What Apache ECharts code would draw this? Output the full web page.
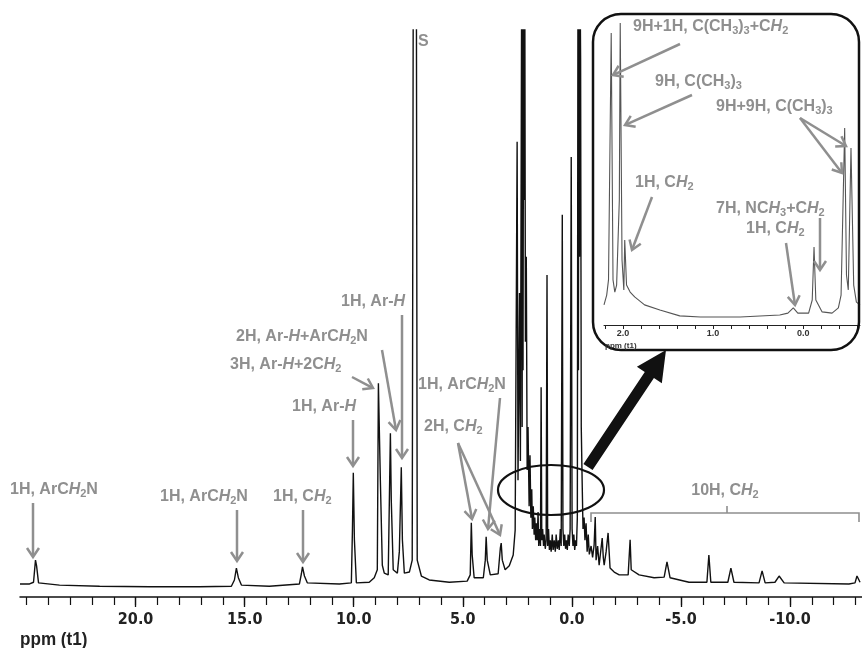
<!DOCTYPE html>
<html><head><meta charset="utf-8">
<script src="https://cdn.jsdelivr.net/npm/echarts@6/dist/echarts.min.js"></script>
<style>html,body{margin:0;padding:0;background:#fff}#c{width:862px;height:648px}</style>
</head><body><div id="c"></div>
<script>
// ---------- DATA ----------
const mainPpm = [25.3,24.86,24.68,24.59,24.54,24.45,23.49,21.65,19.36,17.07,15.61,15.47,15.38,15.29,15.15,13.87,12.49,12.40,12.35,12.26,12.13,10.66,10.11,10.06,10.02,9.97,9.88,9.29,9.06,8.92,8.87,8.78,8.69,8.60,8.42,8.32,8.28,8.19,8.00,7.91,7.82,7.77,7.68,7.45,7.32,7.27,7.13,7.09,6.90,6.54,5.62,4.80,4.66,4.61,4.57,4.48,4.06,3.97,3.93,3.88,3.74,3.38,3.28,3.24,3.19,3.06,2.87,2.69,2.60,2.51,2.47,2.40,2.36,2.30,2.28,2.26,2.24,2.21,2.19,2.16,2.13,2.09,2.05,2.01,1.96,1.92,1.88,1.84,1.81,1.77,1.73,1.70,1.66,1.63,1.59,1.55,1.52,1.48,1.44,1.41,1.38,1.34,1.30,1.27,1.22,1.18,1.14,1.11,1.07,1.03,0.99,0.95,0.90,0.86,0.81,0.76,0.72,0.67,0.62,0.58,0.53,0.49,0.44,0.41,0.37,0.33,0.29,0.25,0.21,0.17,0.12,0.08,0.03,-0.01,-0.05,-0.09,-0.13,-0.17,-0.21,-0.25,-0.28,-0.30,-0.32,-0.35,-0.37,-0.40,-0.43,-0.47,-0.51,-0.56,-0.60,-0.65,-0.70,-0.75,-0.80,-0.88,-0.95,-1.02,-1.07,-1.11,-1.18,-1.25,-1.39,-1.44,-1.48,-1.57,-1.66,-1.75,-1.94,-2.17,-2.58,-2.67,-2.72,-3.08,-3.77,-4.23,-4.36,-4.50,-5.37,-6.19,-6.28,-6.37,-7.15,-7.29,-7.43,-8.58,-8.72,-8.86,-9.31,-9.50,-9.73,-12.70,-12.98,-13.07,-13.21];
const mainIntensity = [2.3,2.3,2.6,6.5,5.5,2.5,2.1,1.9,1.8,1.8,1.9,3.0,5.1,3.4,2.1,1.9,2.3,4.1,5.3,3.7,2.5,2.3,2.5,11.8,21.9,10.1,2.5,2.6,3.4,4.8,37.7,20.6,5.6,4.2,3.9,28.9,17.1,4.8,4.2,8.0,22.9,10.1,4.2,4.4,6.5,112,112,6.5,3.7,3.0,2.6,2.8,3.9,13.1,7.4,3.4,3.4,6.5,10.6,6.5,3.9,4.1,8.6,9.5,6.5,4.8,5.5,7.4,11.8,80.3,20.6,53.6,24,112,30,112,40,112,70,112,45,60,22.4,30,16,25,14,19,12,16,11,14,10,13,10,15,9,12,9,37,10,12,9,11,8.5,10,56.8,9,12,8.3,10,8,11,8.3,10,8,11,8.5,10,8.3,12,9,67.4,12,9,11,8.5,10,8.3,11,9,12,77.6,12,9,11,8.3,10,9,14,112,40,112,60,112,94.7,30,20.6,12,14,10,13,8,11,7.5,9,7,9.2,14.1,6.5,9,5.6,10.4,7,5.6,8,11.3,5.1,4.4,3.9,3.9,10.1,4.8,3.9,3.4,3.5,6.2,3.4,2.6,2.6,7.4,2.6,2.6,5.1,2.6,2.5,4.6,2.5,2.6,3.7,2.5,2.3,2.5,3.7,2.6];

const insetPpm = [2.21,2.18,2.16,2.13,2.11,2.09,2.07,2.04,2.03,2.01,1.99,1.98,1.96,1.92,1.87,1.76,1.59,1.37,1.14,0.70,0.26,0.17,0.11,0.06,-0.06,-0.10,-0.12,-0.14,-0.21,-0.32,-0.39,-0.42,-0.46,-0.48,-0.50,-0.53,-0.56,-0.59,-0.63];
const insetIntensity = [6.6,9.8,14.8,95.7,14.8,10.8,13.1,41,99,21.3,11.5,27.9,13.1,10.8,9.2,6.6,4.9,3.0,2.6,2.6,3.3,3.9,5.6,3.9,3.9,8.2,25.6,8.2,4.3,3.9,5.6,9.8,64.6,16.4,11.5,58,13.1,7.5,6.6];

const mainMajorTicks = [20,15,10,5,0,-5,-10];
const mainMinorTicks = [25,24,23,22,21,20,19,18,17,16,15,14,13,12,11,10,9,8,7,6,5,4,3,2,1,0,-1,-2,-3,-4,-5,-6,-7,-8,-9,-10,-11,-12,-13];
const insetMajorTicks = [2.0,1.0,0.0];
const insetMinorTicks = [2.2,2.0,1.8,1.6,1.4,1.2,1.0,0.8,0.6,0.4,0.2,0.0,-0.2,-0.4,-0.6];

const mainNotes = ['1H, ArC{i|H}{s|2}N','1H, ArC{i|H}{s|2}N','1H, C{i|H}{s|2}','1H, Ar-{i|H}','3H, Ar-{i|H}+2C{i|H}{s|2}','2H, Ar-{i|H}+ArC{i|H}{s|2}N','1H, Ar-{i|H}','S','1H, ArC{i|H}{s|2}N','2H, C{i|H}{s|2}','10H, C{i|H}{s|2}'];
const insetNotes = ['9H+1H, C(CH{s|3}){s|3}+C{i|H}{s|2}','9H, C(CH{s|3}){s|3}','9H+9H, C(CH{s|3}){s|3}','1H, C{i|H}{s|2}','7H, NC{i|H}{s|3}+C{i|H}{s|2}','1H, C{i|H}{s|2}'];

// ---------- LAYOUT ----------
const mainNoteLayout = [
  {x:10,y:490,ar:[[33,503,33,557]]},
  {x:160,y:497,ar:[[237,510,237,561]]},
  {x:273,y:497,ar:[[303,510,303,562]]},
  {x:292,y:407,ar:[[353,420,353,466]]},
  {x:230,y:365,ar:[[352,377,373,388]]},
  {x:236,y:337,ar:[[382,350,396,430]]},
  {x:341,y:302,ar:[[402,315,402,458]]},
  {x:418,y:42,ar:[]},
  {x:418,y:385,ar:[[500,398,488,529]]},
  {x:424,y:427,ar:[[458,443,472,519],[458,443,500,535]]},
  {x:725,y:491,ar:[],center:true}
];
const insetNoteLayout = [
  {x:633,y:27,ar:[[680,44,613,75]]},
  {x:655,y:82,ar:[[692,95,625,125]]},
  {x:716,y:107,ar:[[800,118,846,146],[800,118,842,173]]},
  {x:635,y:183,ar:[[652,197,632,250]]},
  {x:716,y:209,ar:[[820,218,820,270]]},
  {x:746,y:229,ar:[[786,243,795,305]]}
];

const GRAY = '#8f8f8f';
const F = "'Liberation Sans', Arial, sans-serif";
const FN = "'Liberation Sans Narrow', 'Arial Narrow', 'DejaVu Sans Condensed', sans-serif";

function richStyles(fs){
  return {
    i:{fontStyle:'italic',fontWeight:'bold',fontSize:fs,fontFamily:F,fill:GRAY,lineHeight:fs+2},
    s:{fontWeight:'bold',fontSize:Math.round(fs*0.68),fontFamily:F,fill:GRAY,verticalAlign:'bottom',lineHeight:Math.round(fs*0.68)}
  };
}
function textEl(t,x,y,fs,align){
  return {type:'text',x:x,y:y,z:100,style:{text:t,rich:richStyles(fs),fontSize:fs,fontWeight:'bold',fontFamily:F,fill:GRAY,align:align||'left',verticalAlign:'middle',lineHeight:fs+2}};
}
function arrowEls(a,color,w,hl,hw){
  const [x1,y1,x2,y2]=a; const dx=x2-x1, dy=y2-y1, L=Math.hypot(dx,dy), ux=dx/L, uy=dy/L;
  const bx=x2-ux*hl, by=y2-uy*hl, px=-uy, py=ux;
  return [
    {type:'line',z:99,shape:{x1:x1,y1:y1,x2:x2-ux*1,y2:y2-uy*1},style:{stroke:color,lineWidth:w}},
    {type:'polyline',z:99,shape:{points:[[bx+px*hw,by+py*hw],[x2,y2],[bx-px*hw,by-py*hw]]},style:{stroke:color,lineWidth:w,fill:null,lineJoin:'miter'}}
  ];
}
function bigArrow(x1,y1,x2,y2,sw,hl,hw){
  const dx=x2-x1, dy=y2-y1, L=Math.hypot(dx,dy), ux=dx/L, uy=dy/L, px=-uy, py=ux;
  const bx=x2-ux*hl, by=y2-uy*hl;
  return {type:'polygon',z:98,shape:{points:[
    [x1+px*sw,y1+py*sw],[bx+px*sw,by+py*sw],[bx+px*hw,by+py*hw],[x2,y2],
    [bx-px*hw,by-py*hw],[bx-px*sw,by-py*sw],[x1-px*sw,y1-py*sw]]},style:{fill:'#111'}};
}

const graphics = [];
mainNotes.forEach((t,k)=>{
  const L = mainNoteLayout[k];
  graphics.push(textEl(t,L.x,L.y,16,L.center?'center':'left'));
  L.ar.forEach(a=>graphics.push(...arrowEls(a,GRAY,2.5,9,6)));
});
insetNotes.forEach((t,k)=>{
  const L = insetNoteLayout[k];
  graphics.push(textEl(t,L.x,L.y,16,'left'));
  L.ar.forEach(a=>graphics.push(...arrowEls(a,GRAY,2.5,9,6)));
});
// 10H bracket
graphics.push({type:'polyline',z:99,shape:{points:[[591,522],[591,513],[859,513],[859,522]]},style:{stroke:GRAY,lineWidth:1.6,fill:null}});
graphics.push({type:'line',z:99,shape:{x1:727,y1:513,x2:727,y2:506},style:{stroke:GRAY,lineWidth:1.6}});
// ellipse & big arrow
graphics.push({type:'ellipse',z:98,shape:{cx:551,cy:490,rx:53,ry:25},style:{stroke:'#111',lineWidth:2.2,fill:null}});
graphics.push(bigArrow(588,467,666,350,5.5,30,15));
// inset box
graphics.push({type:'rect',z:97,shape:{x:593,y:14,width:266,height:336,r:28},style:{stroke:'#111',lineWidth:2.5,fill:null}});
// axis titles
graphics.push({type:'text',x:20,y:640,z:100,scaleX:0.9,scaleY:1,style:{text:'ppm (t1)',fontSize:19,fontWeight:'bold',fontFamily:F,fill:'#222',align:'left',verticalAlign:'middle'}});
graphics.push({type:'text',x:605,y:346,z:100,style:{text:'ppm (t1)',fontSize:8,fontWeight:'bold',fontFamily:F,fill:'#333',align:'left',verticalAlign:'middle'}});

const chart = echarts.init(document.getElementById('c'), null, {renderer:'canvas'});
chart.setOption({
  animation:false,
  backgroundColor:'#fff',
  grid:[
    {left:20,right:0,top:30,bottom:51},
    {left:604,right:2,top:20,bottom:323}
  ],
  xAxis:[
    {gridIndex:0,type:'value',inverse:true,min:-13.3,max:25.3,position:'bottom',
     axisLine:{show:true,onZero:false,lineStyle:{color:'#111',width:1.5}},
     axisTick:{show:true,customValues:mainMajorTicks,length:10,lineStyle:{color:'#111',width:1.3}},
     axisLabel:{show:true,customValues:mainMajorTicks,formatter:v=>Number(v).toFixed(1),margin:15,fontSize:16,fontWeight:'bold',fontFamily:FN,color:'#222'},
     splitLine:{show:false}},
    {gridIndex:0,type:'value',inverse:true,min:-13.3,max:25.3,position:'bottom',
     axisLine:{show:false,onZero:false},
     axisTick:{show:true,customValues:mainMinorTicks,length:8,lineStyle:{color:'#111',width:1.2}},
     axisLabel:{show:false},splitLine:{show:false}},
    {gridIndex:1,type:'value',inverse:true,min:-0.63,max:2.21,position:'bottom',
     axisLine:{show:true,onZero:false,lineStyle:{color:'#222',width:1}},
     axisTick:{show:true,customValues:insetMinorTicks,length:4,lineStyle:{color:'#222',width:1}},
     axisLabel:{show:true,customValues:insetMajorTicks,formatter:v=>Number(v).toFixed(1),margin:4,fontSize:9,fontWeight:'bold',fontFamily:F,color:'#333'},
     splitLine:{show:false}}
  ],
  yAxis:[
    {gridIndex:0,type:'value',min:0,max:100,show:false},
    {gridIndex:1,type:'value',min:0,max:100,show:false}
  ],
  series:[
    {type:'line',xAxisIndex:0,yAxisIndex:0,data:mainPpm.map((p,i)=>[p,mainIntensity[i]]),symbol:'none',clip:true,lineStyle:{color:'#111',width:1.4},z:5},
    {type:'line',xAxisIndex:2,yAxisIndex:1,data:insetPpm.map((p,i)=>[p,insetIntensity[i]]),symbol:'none',clip:true,lineStyle:{color:'#555',width:1.1},z:5}
  ],
  graphic:{elements:graphics}
});
</script></body></html>
